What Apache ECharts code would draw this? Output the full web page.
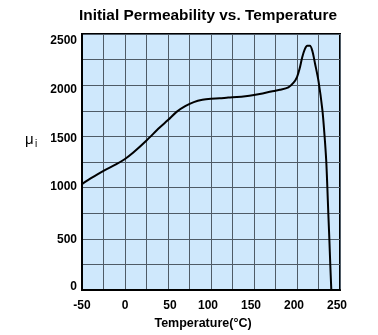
<!DOCTYPE html>
<html><head><meta charset="utf-8">
<script src="https://cdn.jsdelivr.net/npm/echarts@6/dist/echarts.min.js"></script>
<style>html,body{margin:0;padding:0;background:#fff}#c{width:378px;height:335px}</style>
</head><body><div id="c"></div>
<script>
const temps = [-50,-40,-25,-10,0,10,25,40,50,60,70,80,90,100,110,120,130,140,150,160,170,180,190,196,200,203,206,209,212,215,218,221,225,229.5,232,234,235.3,236.4,237.6,238.7,239.9];
const perm  = [1035,1090,1165,1230,1280,1345,1460,1585,1660,1740,1795,1835,1858,1868,1872,1880,1885,1893,1905,1920,1938,1955,1980,2025,2080,2160,2270,2350,2385,2385,2330,2210,2040,1760,1510,1260,1000,750,500,250,0];
const xTicks = {min:-50, max:250, step:25, labelStep:50};
const yTicks = {min:0, max:2500, step:250, labelStep:500};
const titleText = 'Initial Permeability vs. Temperature';
const xName = 'Temperature(\u00B0C)';

// label nudges (pixels) to mimic the reference placement
const yNudge = {0:-3, 500:1, 1000:-1, 1500:2, 2000:4, 2500:7};
const xNudge = {'-50':0, 0:0, 50:2, 100:-3, 150:-3, 200:-3, 250:-3};
const font = 'Liberation Sans, Arial, Helvetica, sans-serif';
const baseLbl = {fontFamily:font, fontSize:12, fontWeight:'bold', color:'#000'};
const yRich = {}, xRich = {};
Object.keys(yNudge).forEach(k => { const d = yNudge[k];
  yRich['y'+k] = Object.assign({}, baseLbl, {padding: d >= 0 ? [2*d,0,0,0] : [0,0,-2*d,0]}); });
Object.keys(xNudge).forEach(k => { const d = xNudge[k];
  xRich['x'+(k.replace('-','m'))] = Object.assign({}, baseLbl, {padding: d >= 0 ? [0,0,0,2*d] : [0,-2*d,0,0]}); });

const chart = echarts.init(document.getElementById('c'), null, {renderer:'canvas'});
chart.setOption({
  animation:false,
  title:{text:titleText, left:79, top:8, padding:0, textStyle:{fontFamily:font, fontSize:15.4, fontWeight:'bold', color:'#000'}},
  grid:{left:82, right:38, top:34, bottom:43, show:true, backgroundColor:'#cfe8fc', borderColor:'#000', borderWidth:2},
  xAxis:{type:'value', min:xTicks.min, max:xTicks.max, interval:xTicks.step,
    name:xName, nameLocation:'middle', nameGap:23,
    nameTextStyle:{fontFamily:font, fontSize:12.5, fontWeight:'bold', color:'#000', padding:[0,16,0,0]},
    axisLine:{show:true, onZero:false, lineStyle:{color:'#000', width:2}},
    axisTick:{show:false},
    axisLabel:{margin:10, fontFamily:font, fontSize:12, fontWeight:'bold', color:'#000', showMinLabel:true, showMaxLabel:true,
      rich:xRich,
      formatter:v => (v % xTicks.labelStep === 0 ? '{x'+String(v).replace('-','m')+'|'+v+'}' : '')},
    splitLine:{show:true, lineStyle:{color:'#4f5b66', width:1}}
  },
  yAxis:{type:'value', min:yTicks.min, max:yTicks.max, interval:yTicks.step,
    axisLine:{show:true, onZero:false, lineStyle:{color:'#000', width:2}},
    axisTick:{show:false},
    axisLabel:{margin:5, fontFamily:font, fontSize:12, fontWeight:'bold', color:'#000', rich:yRich,
      formatter:v => (v % yTicks.labelStep === 0 ? '{y'+v+'|'+v+'}' : '')},
    splitLine:{show:true, lineStyle:{color:'#4f5b66', width:1}}
  },
  graphic:[
    {type:'text', left:25, top:132, style:{text:'\u03BC', fontFamily:font, fontSize:15, fill:'#000'}},
    {type:'text', left:35, top:139, style:{text:'i', fontFamily:font, fontSize:10, fill:'#000'}}
  ],
  series:[{type:'line', data:temps.map((t,i)=>[t,perm[i]]), smooth:0.3, showSymbol:false, clip:true,
    lineStyle:{color:'#000', width:2}}]
});
</script></body></html>
